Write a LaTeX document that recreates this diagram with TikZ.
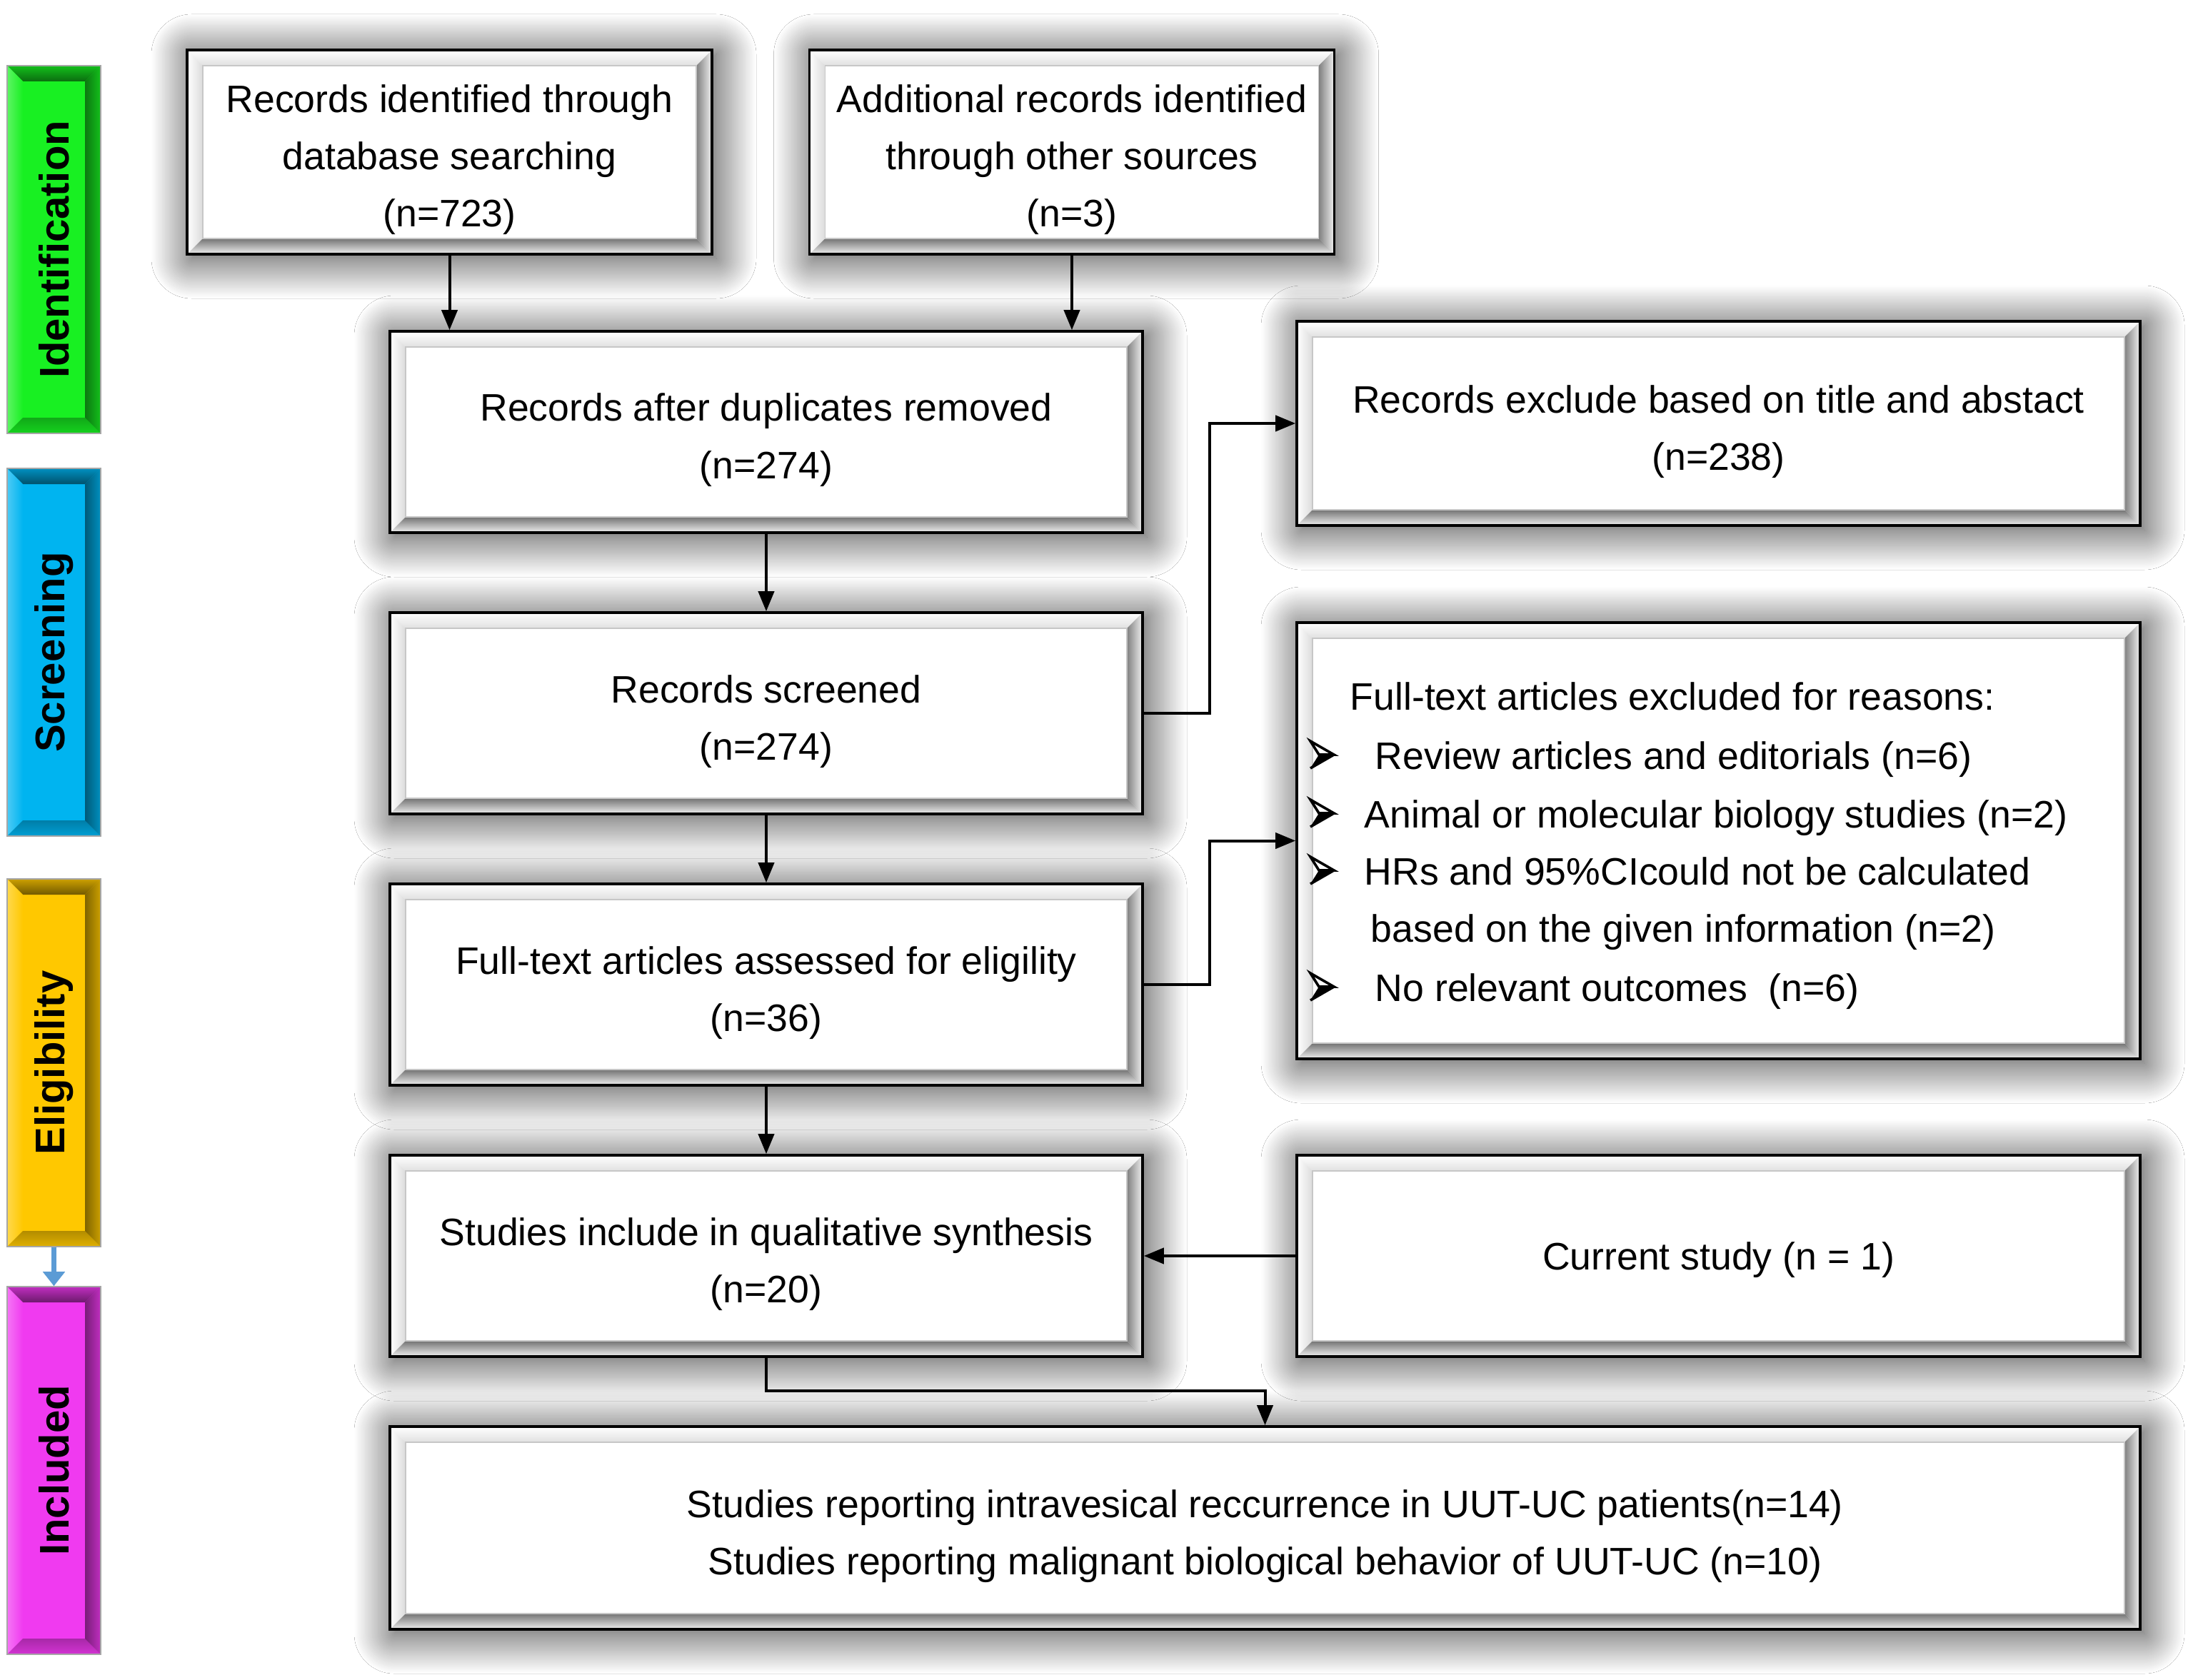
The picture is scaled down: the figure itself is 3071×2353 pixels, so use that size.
\documentclass[tikz,border=0pt]{standalone}
\usepackage{fontspec}
\setmainfont{Liberation Sans}
\usetikzlibrary{arrows.meta,shadows.blur}

\definecolor{idgreen}{RGB}{24,240,34}
\definecolor{sccyan}{RGB}{0,180,240}
\definecolor{elgold}{RGB}{255,200,0}
\definecolor{inmag}{RGB}{240,58,240}
\definecolor{arrblue}{RGB}{91,155,213}

\newcommand\boxtext{\fontsize{13.4pt}{20pt}\selectfont}
\newcommand\sidetext{\fontsize{14.5pt}{17pt}\selectfont\bfseries}
\newcommand\bevelw{5.5pt}
\newcommand\tl[1]{\begin{tabular}{@{}c@{}}\rule{0pt}{18.5pt}#1\end{tabular}}
\newcommand\tlone[1]{\begin{tabular}{@{}c@{}}\rule{0pt}{15.5pt}#1\end{tabular}}

\newcommand\mkcorners{%
  \path (path picture bounding box.north west) coordinate (pNW)
        (path picture bounding box.north east) coordinate (pNE)
        (path picture bounding box.south east) coordinate (pSE)
        (path picture bounding box.south west) coordinate (pSW);
  \path ([xshift=\bevelw,yshift=-\bevelw]pNW) coordinate (qNW)
        ([xshift=-\bevelw,yshift=-\bevelw]pNE) coordinate (qNE)
        ([xshift=-\bevelw,yshift=\bevelw]pSE) coordinate (qSE)
        ([xshift=\bevelw,yshift=\bevelw]pSW) coordinate (qSW);
}
\newcommand\whitebevel{%
  \mkcorners
  \shade[top color=white, bottom color=black!12] (pNW) -- (pNE) -- (qNE) -- (qNW) -- cycle;
  \shade[left color=white, right color=black!14] (pNW) -- (qNW) -- (qSW) -- (pSW) -- cycle;
  \shade[top color=black!55, bottom color=black!6] (qSW) -- (qSE) -- (pSE) -- (pSW) -- cycle;
  \shade[left color=black!50, right color=black!6] (qNE) -- (pNE) -- (pSE) -- (qSE) -- cycle;
  \draw[black!22, line width=0.4pt] (qNW) rectangle (qSE);
}
\newcommand\colorbevel[1]{%
  \mkcorners
  \shade[top color=#1!80!black, bottom color=#1!45!black] (pNW) -- (pNE) -- (qNE) -- (qNW) -- cycle;
  \shade[left color=#1!70!white, right color=#1] (pNW) -- (qNW) -- (qSW) -- (pSW) -- cycle;
  \shade[top color=#1!70!black, bottom color=#1!88!black] (qSW) -- (qSE) -- (pSE) -- (pSW) -- cycle;
  \shade[left color=#1!50!black, right color=#1!80!black] (qNE) -- (pNE) -- (pSE) -- (qSE) -- cycle;
}
% 3-D arrowhead bullet, tip at (x+33,y)
\newcommand\arrbullet[2]{%
  \begin{scope}[shift={(#1,#2)}]
    \fill[black] (0,19) -- (33,0) -- (12,0) -- cycle;
    \filldraw[fill=white, draw=black, line width=0.9pt, line join=miter] (0,-19) -- (33,0) -- (12,0) -- cycle;
    \draw[black, line width=0.9pt] (0,19) -- (33,0);
  \end{scope}}

\tikzset{
  glow/.style={blur shadow={shadow xshift=1.5pt, shadow yshift=-1.5pt, shadow blur radius=14pt,
    shadow blur steps=30, shadow opacity=80}},
  flowbox/.style={rectangle, draw=black, line width=0.9pt, fill=white,
    inner sep=0pt, font=\boxtext, glow, path picture={\whitebevel}},
  smallbox/.style={flowbox, minimum width=183.75pt, minimum height=71.5pt},
  midbox/.style={flowbox, minimum width=263.5pt, minimum height=70.5pt},
  rightbox/.style={flowbox, minimum width=295.25pt},
  sidebar/.style={rectangle, draw=black!35, line width=0.4pt, fill=#1, inner sep=0pt,
    minimum width=32.75pt, minimum height=128.75pt,
    path picture={\colorbevel{#1}}},
  sidelabel/.style={rotate=90, font=\sidetext, inner sep=0pt},
  exline/.style={anchor=base west, inner sep=0pt, font=\boxtext},
  arr/.style={draw=black, line width=1pt, -{Triangle[length=7pt,width=5.5pt]}},
  bluearr/.style={draw=arrblue, line width=1.6pt, -{Triangle[length=5pt,width=7.5pt]}}
}

\begin{document}
\begin{tikzpicture}[x=0.25pt, y=-0.25pt]
\useasboundingbox (0,0) rectangle (3071,2353);
\fill[white] (0,0) rectangle (3071,2353);

% phase bars
\node[sidebar=idgreen] (idbar) at (75.5,349.5) {};
\node[sidebar=sccyan] (scbar) at (75.5,913.5) {};
\node[sidebar=elgold] (elbar) at (75.5,1488.5) {};
\node[sidebar=inmag] (inbar) at (75.5,2059.5) {};
\node[sidelabel] (idlab) at (idbar) {Identification};
\node[sidelabel] (sclab) at (scbar) {Screening};
\node[sidelabel] (ellab) at (elbar) {Eligibility};
\node[sidelabel] (inlab) at (inbar) {Included};
\draw[bluearr] (elbar.south) -- (inbar.north);

% boxes
\node[smallbox] (b1) at (629.5,213) {\tl{Records identified through\\database searching\\(n=723)}};
\node[smallbox] (b2) at (1501,213) {\tl{Additional records identified\\through other sources\\(n=3)}};
\node[midbox] (b3) at (1073,605) {\tl{Records after duplicates removed\\(n=274)}};
\node[rightbox, minimum height=71.5pt] (b4) at (2406.5,593) {\tl{Records exclude based on title and abstact\\(n=238)}};
\node[midbox] (b5) at (1073,999) {\tl{Records screened\\(n=274)}};
\node[flowbox, minimum width=295.25pt, minimum height=152.75pt] (b6) at (2406.5,1177.5) {};
\node[midbox] (b7) at (1073,1379) {\tl{Full-text articles assessed for eligility\\(n=36)}};
\node[midbox] (b8) at (1073,1759) {\tl{Studies include in qualitative synthesis\\(n=20)}};
\node[rightbox, minimum height=70.5pt] (b9) at (2406.5,1759) {\tlone{Current study (n = 1)}};
\node[flowbox, minimum width=612.75pt, minimum height=71pt] (b10) at (1771.5,2140)
  {\tl{Studies reporting intravesical reccurrence in UUT-UC patients(n=14)\\Studies reporting malignant biological behavior of UUT-UC (n=10)}};

% exclusion reasons
\node[exline] (e1) at (1890,994) {Full-text articles excluded for reasons:};
\node[exline] (e2) at (1925,1077) {Review articles and editorials (n=6)};
\node[exline] (e3) at (1910,1159) {Animal or molecular biology studies (n=2)};
\node[exline] (e4) at (1910,1239) {HRs and 95\%CIcould not be calculated};
\node[exline] (e5) at (1919,1319) {based on the given information (n=2)};
\node[exline] (e6) at (1925,1402) {No relevant outcomes~ (n=6)};
\arrbullet{1835}{1057}
\arrbullet{1835}{1139}
\arrbullet{1835}{1219}
\arrbullet{1835}{1382}

% connectors
\draw[arr] (b1.south) -- (b1.south |- b3.north);
\draw[arr] (b2.south) -- (b2.south |- b3.north);
\draw[arr] (b3.south) -- (b5.north);
\draw[arr] (b5.south) -- (b7.north);
\draw[arr] (b7.south) -- (b8.north);
\draw[arr] (b5.east) -- ++(92,0) |- (b4.west);
\draw[arr] (b7.east) -- ++(92,0) |- (b6.west);
\draw[arr] (b9.west) -- (b8.east);
\draw[arr] (b8.south) -- ++(0,46) -| (b10.north);
\end{tikzpicture}
\end{document}
